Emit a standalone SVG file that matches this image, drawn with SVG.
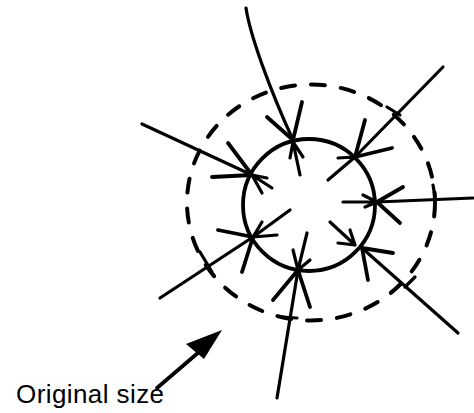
<svg xmlns="http://www.w3.org/2000/svg" width="474" height="413" viewBox="0 0 474 413">
<style>
.s{stroke:#000;fill:none;stroke-linecap:round;stroke-linejoin:round}
.ln{stroke-width:3.2}
.bb{stroke-width:3.8}
.t{font-family:"Liberation Sans",Arial,sans-serif;font-size:26px;fill:#000}
</style>
<rect width="474" height="413" fill="#fff"/>
<g id="outer-boundary">
<ellipse class="s" cx="311" cy="202.5" rx="124" ry="118" stroke-width="4" stroke-linecap="butt" stroke-dasharray="14 16"/>
</g>
<g id="cell">
<circle class="s" cx="309" cy="205" r="66" stroke-width="3.8"/>
</g>
<g id="connectors">
<g id="node-a">
<path class="s ln" d="M246,8 C250,35 270,90 293,140"/>
<path class="s bb" d="M267,117 L293,140 L302,102"/>
<path class="s ln" d="M300,175 L293,142 M290,158 L293,142 L303,157"/>
</g>
<g id="node-b">
<path class="s ln" d="M443,67 L355,157 M387,107 L400,115"/>
<path class="s bb" d="M365,120 L355,157 L392,148"/>
<path class="s ln" d="M328,180 L355,157 M338,158 L355,157"/>
</g>
<g id="node-c">
<path class="s ln" d="M142,124 L252,175"/>
<path class="s bb" d="M228,143 L252,175 L212,177"/>
<path class="s ln" d="M267,178 L252,175 L272,188 M262,193 L252,175"/>
</g>
<g id="node-d">
<path class="s ln" d="M473,198 L377,202 M433,185 L435,197"/>
<path class="s bb" d="M403,187 L377,202 L400,223"/>
<path class="s ln" d="M343,202 L377,202 M363,195 L377,202 L365,207"/>
</g>
<g id="node-e">
<path class="s ln" d="M458,333 L362,248 M415,277 L405,287"/>
<path class="s bb" d="M393,253 L362,248 L368,280"/>
<path class="s ln" d="M330,222 L355,245 M350,230 L355,245 L338,243"/>
</g>
<g id="node-f">
<path class="s ln" d="M277,398 L298,270 M282,317 L297,318"/>
<path class="s bb" d="M273,300 L298,270 L310,307"/>
<path class="s ln" d="M307,233 L298,270 M293,250 L298,270 L310,260"/>
</g>
<g id="node-g">
<path class="s ln" d="M160,298 L253,237 M200,252 L212,272"/>
<path class="s bb" d="M218,230 L253,237 L242,272"/>
<path class="s ln" d="M290,210 L253,237 M277,235 L253,237 L262,222"/>
</g>
</g>
<g id="label">
<path class="s" d="M157,388 L199,352" stroke-width="3.8"/>
<polygon points="222,330 186,344 204,359" fill="#000"/>
<text class="t" x="16" y="403" textLength="148" lengthAdjust="spacing">Original size</text>
</g>
</svg>
